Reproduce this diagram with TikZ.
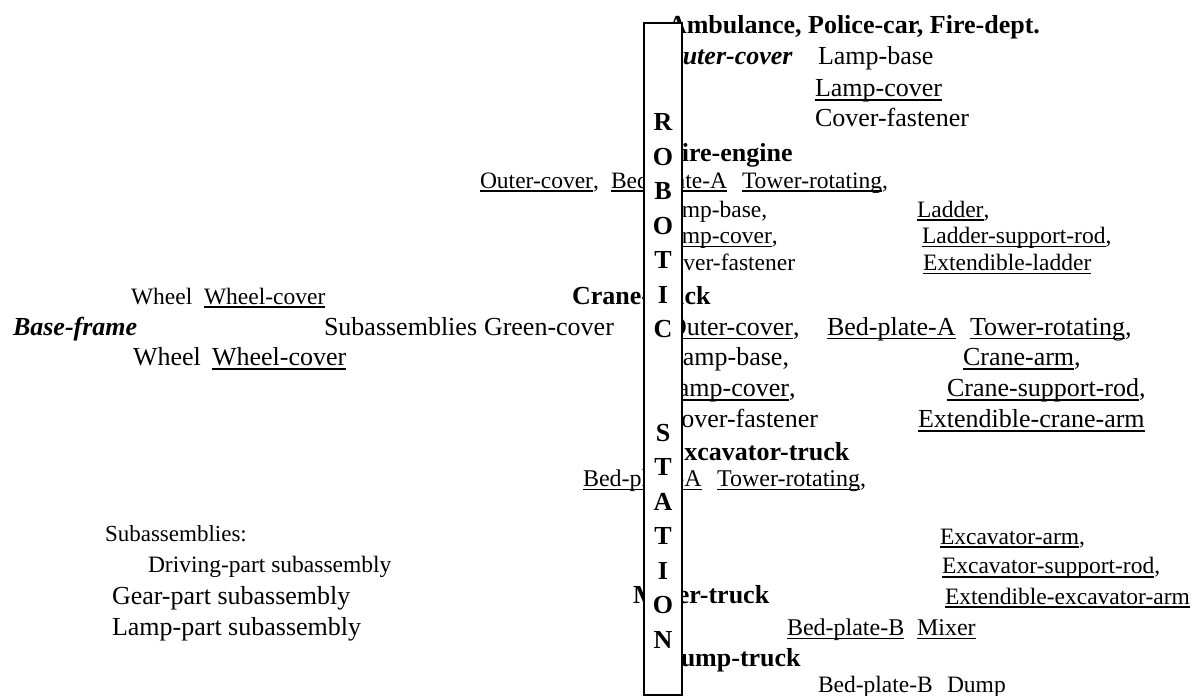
\documentclass[tikz,border=0pt]{standalone}
\usepackage{fontspec}
\setmainfont{Liberation Serif}
\newsavebox{\ulbox}
\newcommand{\ulx}[1]{\sbox{\ulbox}{#1}\rlap{\rule[-0.17em]{\wd\ulbox}{0.065em}}\usebox{\ulbox}}
\begin{document}
\begin{tikzpicture}[x=1pt,y=-1pt,
  txt/.style={anchor=base west, inner sep=0pt, outer sep=0pt},
  fL/.style={txt, font=\fontsize{26}{30}\selectfont},
  fM/.style={txt, font=\fontsize{23.5}{28}\selectfont},
  fS/.style={txt, font=\fontsize{24}{28}\selectfont},
  fT/.style={txt, font=\fontsize{23}{28}\selectfont},
  hdr/.style={txt, font=\fontsize{26}{30}\selectfont\bfseries},
  bi/.style={txt, font=\fontsize{26}{30}\selectfont\bfseries\itshape},
  station/.style={draw, line width=2.3pt, fill=white},
  letter/.style={anchor=base, inner sep=0pt, font=\fontsize{26}{30}\selectfont\bfseries}]
\useasboundingbox (0,0) rectangle (1202,696);
% Ambulance group
\node[hdr] (a1) at (668,33.5) {Ambulance, Police-car, Fire-dept.};
\node[bi]  (a2) at (664,64.5) {Outer-cover};
\node[fL]  (a3) at (818,64.5) {Lamp-base};
\node[fL]  (a4) at (815,96.5) {\ulx{Lamp-cover}};
\node[fL]  (a5) at (815,126.5) {Cover-fastener};
% Fire-engine group
\node[hdr] (f1) at (666,161.5) {Fire-engine};
\node[fM]  (f2) at (480,188) {\ulx{Outer-cover},};
\node[fM]  (f3) at (611,188) {\ulx{Bed-plate-A}};
\node[fM]  (f4) at (742,188) {\ulx{Tower-rotating},};
\node[fM]  (f5) at (657,217) {Lamp-base,};
\node[fM]  (f6) at (917,217) {\ulx{Ladder},};
\node[fM]  (f7) at (657,243.5) {\ulx{Lamp-cover},};
\node[fM]  (f8) at (922,243.5) {\ulx{Ladder-support-rod},};
\node[fM]  (f9) at (656,270.5) {Cover-fastener};
\node[fM]  (f10) at (923,270.5) {\ulx{Extendible-ladder}};
% Crane-truck group and base frame
\node[fM]  (c1) at (131,304) {Wheel};
\node[fM]  (c2) at (204,304) {\ulx{Wheel-cover}};
\node[hdr] (c3) at (572,304.5) {Crane-truck};
\node[bi]  (c4) at (13,335) {Base-frame};
\node[fL]  (c5) at (324,335) {Subassemblies};
\node[fL]  (c6) at (484,335) {Green-cover};
\node[fL]  (c7) at (668,335) {\ulx{Outer-cover},};
\node[fL]  (c8) at (827,335) {\ulx{Bed-plate-A}};
\node[fL]  (c9) at (970,335) {\ulx{Tower-rotating},};
\node[fL]  (c10) at (133,365.5) {Wheel};
\node[fL]  (c11) at (212,365.5) {\ulx{Wheel-cover}};
\node[fL]  (c12) at (667,365.5) {Lamp-base,};
\node[fL]  (c13) at (963,365.5) {\ulx{Crane-arm},};
\node[fL]  (c14) at (662,396.5) {\ulx{Lamp-cover},};
\node[fL]  (c15) at (947,396.5) {\ulx{Crane-support-rod},};
\node[fL]  (c16) at (664,427.5) {Cover-fastener};
\node[fL]  (c17) at (918,427.5) {\ulx{Extendible-crane-arm}};
% Excavator group
\node[hdr] (e1) at (667,460.5) {Excavator-truck};
\node[fS]  (e2) at (583,486) {\ulx{Bed-plate-A}};
\node[fS]  (e3) at (717,486) {\ulx{Tower-rotating},};
\node[fM]  (e4) at (940,544) {\ulx{Excavator-arm},};
\node[fM]  (e5) at (942,573.5) {\ulx{Excavator-support-rod},};
\node[fM]  (e6) at (945,604) {\ulx{Extendible-excavator-arm}};
% Subassemblies list
\node[fT]  (s1) at (105,541.5) {Subassemblies:};
\node[fM]  (s2) at (148,572) {Driving-part subassembly};
\node[fL]  (s3) at (112,604) {Gear-part subassembly};
\node[fL]  (s4) at (112,635.5) {Lamp-part subassembly};
% Mixer and Dump
\node[hdr] (m1) at (633,603.5) {Mixer-truck};
\node[fS]  (m2) at (787,635) {\ulx{Bed-plate-B}};
\node[fS]  (m3) at (917,635) {\ulx{Mixer}};
\node[hdr] (d1) at (662,666) {Dump-truck};
\node[fM]  (d2) at (818,692.5) {Bed-plate-B};
\node[fM]  (d3) at (947,692.5) {Dump};
% Robotic station bar
\node[station, minimum width=38pt, minimum height=672pt, inner sep=0pt, anchor=north west] (bar) at (643,22) {};
\foreach \ch/\yy/\nm in {R/122/l1, O/156.5/l2, B/191/l3, O/225.5/l4, T/260/l5, I/294.5/l6, C/329/l7,
  S/432.5/l8, T/467/l9, A/501.5/l10, T/536/l11, I/570.5/l12, O/605/l13, N/639.5/l14}
  \node[letter] (\nm) at (663,\yy+8.6) {\ch};
\end{tikzpicture}
\end{document}
